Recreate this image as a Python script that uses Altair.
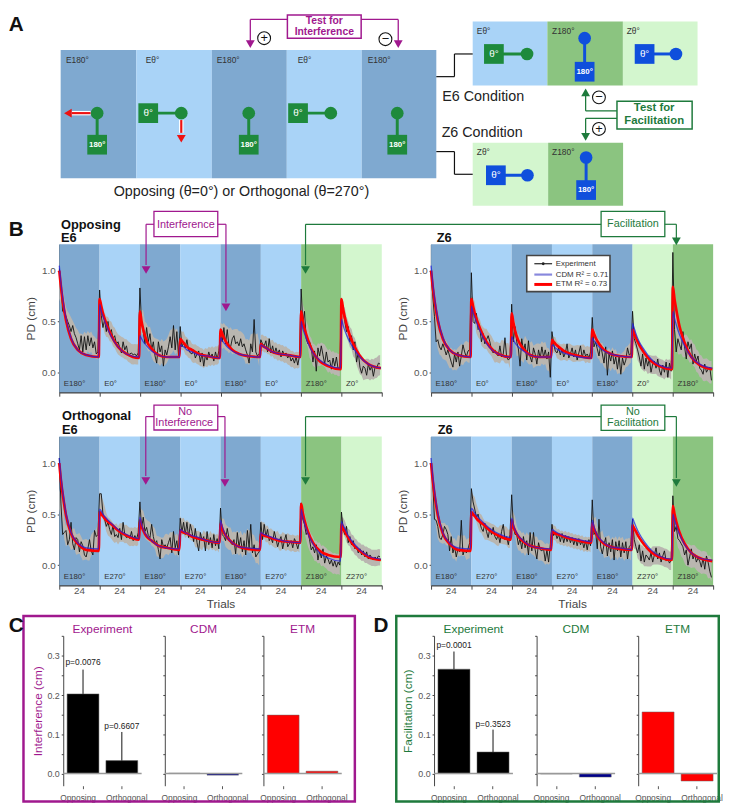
import altair as alt
import pandas as pd

DARK, LIGHT = "#7FA9D0", "#A9D3F7"
GDARK, GLIGHT = "#8BC480", "#D3F6CE"
PURPLE, GREEN = "#A0188E", "#1E7A3C"
BBLUE, BGREEN = "#0F4FDC", "#1E8A3C"
AXC = "#555555"
OFF = [0, 1, 2, 4, 7, 11, 16, 23.5]

# ---------- panel B: block labels ----------
b1_labels = ["E180°", "E0°", "E180°", "E0°", "E180°", "E0°", "Z180°", "Z0°"]
b2_labels = ["E180°", "E0°", "E180°", "E0°", "E180°", "Z0°", "Z180°"]
b3_labels = ["E180°", "E270°", "E180°", "E270°", "E180°", "E270°", "Z180°", "Z270°"]
b4_labels = ["E180°", "E270°", "E180°", "E270°", "E180°", "Z270°", "Z180°"]

# ---------- panel B: experiment, in hundredths of a cm, one row per block ----------
b1_exp = [
 [102,85,60,59,55,50,46,40,46,38,34,28,22,36,20,35,22,36,26,34,24,30,18,20],
 [81,56,44,52,40,50,38,42,33,36,28,30,24,19,30,22,26,17,18,19,17,18,16,19],
 [83,48,40,28,44,30,38,22,30,16,9,30,20,26,6,22,17,25,35,24,46,22,40,16],
 [45,25,29,24,32,22,19,18,22,14,18,21,10,19,6,17,12,20,14,18,11,20,13,21],
 [38,30,44,28,42,26,25,33,36,28,30,26,33,25,28,22,17,9,28,20,52,20,16,18],
 [32,28,26,31,20,33,19,26,18,24,18,22,15,21,17,19,14,17,11,14,9,15,7,16],
 [82,48,60,33,28,30,25,10,21,1,24,16,26,17,8,20,10,12,3,14,6,15,3,4],
 [73,60,50,40,45,30,36,22,30,10,20,5,-1,6,4,-3,8,2,6,-4,5,4,9,8],
]
b2_exp = [
 [100,75,55,30,32,25,22,28,23,17,22,16,10,5,18,10,20,6,16,27,20,15,21,22],
 [98,50,48,58,42,44,30,38,28,32,36,30,22,19,22,18,16,26,15,18,34,15,12,14],
 [67,30,45,30,23,6,33,21,28,12,31,15,10,24,18,8,22,14,25,15,22,13,20,-5],
 [40,28,21,19,24,17,23,15,19,28,14,18,24,15,22,12,19,26,14,22,16,18,14,20],
 [54,25,30,23,16,27,18,9,25,-3,18,11,21,8,15,3,16,-2,14,7,12,24,17,18],
 [60,33,28,22,15,6,18,3,14,6,13,0,8,11,4,13,2,-3,7,0,10,-5,9,1],
 [118,42,20,33,27,22,40,25,13,30,23,28,8,18,11,16,4,2,-2,8,0,3,5,-8],
]
b3_exp = [
 [105,60,30,32,34,20,25,42,21,15,27,25,13,23,19,10,8,16,25,14,10,34,28,30],
 [70,70,50,45,38,42,35,30,39,28,30,27,36,25,42,30,27,28,26,33,24,29,25,32],
 [62,36,47,33,37,29,27,40,28,21,24,15,6,25,18,20,17,22,27,12,33,17,24,10],
 [46,32,42,30,42,27,40,33,23,36,22,14,32,24,28,14,33,20,27,17,30,19,26,16],
 [56,30,28,24,36,27,22,20,25,11,32,18,27,13,24,10,34,17,40,12,20,8,11,13],
 [42,25,40,28,35,24,27,22,33,26,18,24,28,16,24,30,18,21,24,17,26,22,16,23],
 [61,45,40,30,33,25,15,18,12,20,5,14,7,16,2,9,6,1,5,-1,4,-2,3,0],
 [52,35,30,38,22,28,20,24,16,18,12,16,10,14,8,13,6,10,7,5,8,6,9,8],
]
b4_exp = [
 [100,82,45,44,38,27,25,30,38,35,30,14,28,12,18,8,16,13,44,10,15,12,16,22],
 [75,62,55,47,50,42,36,33,41,33,27,36,30,37,28,25,30,22,33,40,25,28,20,30],
 [69,38,30,30,20,26,16,28,17,24,10,32,14,32,15,6,22,15,14,16,4,15,3,20],
 [40,29,32,26,30,23,31,22,29,23,28,22,27,20,26,19,26,20,24,17,24,15,25,19],
 [64,30,33,16,45,18,11,20,27,9,22,13,25,5,23,14,24,8,22,12,23,6,18,20],
 [45,25,18,12,20,4,14,3,10,8,5,12,3,10,17,6,12,3,9,14,4,6,2,5],
 [68,33,38,26,24,21,18,10,15,0,8,16,6,11,3,7,4,-2,7,-4,9,3,-6,-12],
]
# half-width of the grey band per block
b1_hw = [10, 10, 12, 9, 12, 8, 11, 10]
b2_hw = [10, 10, 11, 8, 10, 9, 11]
b3_hw = [10, 9, 10, 8, 11, 8, 10, 8]
b4_hw = [10, 9, 10, 7, 10, 9, 11]

# ---------- panel B: model curves, hundredths of a cm, read at trials OFF of each block ----------
b1_etm = [[100,84,71,51,33,22,17,15],[72,65,58,48,36,25,18,14],[60,50,42,31,23,17,15,15],[33,31,29,25,22,18,16,14],
          [42,38,34,28,22,18,16,15],[28,26,25,23,20,18,17,15],[60,50,43,32,20,11,6,3],[72,62,54,41,28,16,8,4]]
b1_cdm = [[105,88,74,53,34,22,17,15],[67,60,55,46,35,25,18,15],[36,33,30,26,21,17,15,15],[27,26,25,22,20,17,16,14],
          [34,31,29,25,21,18,16,15],[27,26,25,23,20,18,17,15],[50,43,38,29,19,12,7,4],[52,46,41,33,24,15,8,4]]
b2_etm = [[100,84,71,51,33,22,17,15],[72,65,58,48,36,25,18,15],[58,49,41,31,23,17,15,15],[32,30,28,25,21,18,16,14],
          [42,38,34,28,22,18,16,15],[42,38,34,27,19,11,6,3],[84,72,62,45,29,15,7,3]]
b2_cdm = [[105,88,74,53,34,22,17,15],[65,59,54,45,34,24,18,15],[35,32,29,25,21,17,15,15],[27,26,24,22,19,17,15,14],
          [34,31,29,25,21,18,16,15],[48,43,38,30,22,13,7,4],[60,53,47,37,26,15,8,4]]
b3_etm = [[100,83,70,49,31,21,15,14],[52,50,48,44,40,34,29,25],[44,38,34,28,24,19,17,15],[34,33,32,31,28,26,24,22],
          [41,36,32,27,22,18,16,15],[31,30,29,28,26,24,23,22],[60,51,44,33,22,14,10,8],[40,36,33,27,20,14,8,5]]
b3_cdm = [[105,87,73,51,32,22,17,16],[55,53,50,46,41,35,30,26],[47,40,35,29,24,19,17,16],[35,34,33,31,29,27,24,22],
          [44,38,33,27,22,18,17,16],[32,31,30,29,27,25,23,22],[55,47,41,31,21,12,7,4],[43,39,36,29,22,15,9,6]]
b4_etm = [[100,83,70,49,31,21,15,14],[52,50,48,44,40,34,29,25],[44,38,34,28,23,19,17,15],[33,32,31,30,28,26,24,22],
          [41,36,32,26,21,18,16,15],[39,36,33,27,20,13,8,5],[58,50,43,32,21,12,7,4]]
b4_cdm = [[105,87,73,51,32,22,17,16],[56,54,51,47,42,36,31,27],[46,40,35,29,24,19,17,16],[35,34,33,31,29,27,25,23],
          [44,38,33,27,22,18,17,15],[46,42,38,31,23,15,9,6],[50,44,39,30,20,12,7,5]]

# ---------- panels C and D ----------
bar_cats = ["Opposing", "Orthogonal"]
c_exp, c_err = [0.203, 0.033], [0.265, 0.106]
c_cdm, c_etm = [0.001, -0.004], [0.149, 0.006]
c_p = ["p=0.0076", "p=0.6607"]
c_p_y = [0.283, 0.122]
d_exp, d_err = [0.266, 0.055], [0.311, 0.112]
d_cdm, d_etm = [-0.001, -0.009], [0.157, -0.019]
d_p = ["p=0.0001", "p=0.3523"]
d_p_y = [0.328, 0.127]


def blank(w=1, h=1):
    return alt.Chart(pd.DataFrame({"a": [0]})).mark_point(opacity=0, size=1).encode(
        x=alt.value(0), y=alt.value(0)).properties(width=w, height=h)


def trace_panel(labels, exp, etm, cdm, hw, bottom, width, height, ydom):
    n = len(labels)
    N = n * 24
    rows = []
    for b, vals in enumerate(exp):
        for t, v in enumerate(vals):
            rows.append({"t": b * 24 + t, "block": b, "v": v / 100})
    d = pd.DataFrame(rows)
    d["smooth"] = d.groupby("block")["v"].transform(lambda s: s.rolling(5, center=True, min_periods=1).mean())
    d["hw"] = [hw[b] / 100 for b in d["block"]]
    d["lo"] = d["smooth"] - d["hw"]
    d["hi"] = d["smooth"] + d["hw"]

    def curve(m):
        return pd.DataFrame([{"t": b * 24 + o, "v": v / 100, "i": b * 100 + j}
                             for b, vals in enumerate(m) for j, (o, v) in enumerate(zip(OFF, vals))])

    blocks = pd.DataFrame({"s": [i * 24 for i in range(n)], "e": [(i + 1) * 24 for i in range(n)],
                           "lab": labels,
                           "c": [{"E180°": DARK, "Z180°": GDARK}.get(l, GLIGHT if l[0] == "Z" else LIGHT) for l in labels]})
    blocks["tx"] = blocks["s"] + 2.7
    blocks["ty"] = -0.113
    blocks["mid"] = blocks["s"] + 12
    blocks["n"] = "24"
    xs = alt.Scale(domain=[0, N], nice=False)
    ys = alt.Scale(domain=ydom, nice=False)
    xax = alt.Axis(values=[i * 24 for i in range(n + 1)], labels=False, tickSize=4, tickColor="#444",
                   domainColor="#444", domainWidth=1.5, grid=False,
                   title="Trials" if bottom else None, titleFontSize=12, titleFontWeight="normal",
                   titleColor="#444", titlePadding=9)
    yax = alt.Axis(values=[0, 0.5, 1.0], format=".1f", tickSize=2, tickColor="#444", domainColor="#444",
                   domainWidth=1.5, labelColor=AXC, labelFontSize=10, grid=False, title="PD (cm)",
                   titleFontSize=12, titleFontWeight="normal", titleColor="#444", titlePadding=4)
    bg = alt.Chart(blocks).mark_rect().encode(
        x=alt.X("s:Q", scale=xs, axis=xax), x2="e:Q", y=alt.value(0), y2=alt.value(height),
        color=alt.Color("c:N", scale=None))
    band = alt.Chart(d).mark_area(color="#B9B6B0", opacity=1).encode(
        x=alt.X("t:Q", scale=xs, axis=xax),
        y=alt.Y("lo:Q", scale=ys, axis=yax), y2="hi:Q", detail="block:N")
    black = alt.Chart(d).mark_line(color="#111111", strokeWidth=0.9).encode(
        x=alt.X("t:Q", scale=xs, axis=xax), y=alt.Y("v:Q", scale=ys, axis=yax))
    red = alt.Chart(curve(etm)).mark_line(color="#FF0000", strokeWidth=2.7, interpolate="monotone").encode(
        x=alt.X("t:Q", scale=xs, axis=xax), y=alt.Y("v:Q", scale=ys, axis=yax), order="i:Q")
    blue = alt.Chart(curve(cdm)).mark_line(color="#2020DD", strokeWidth=1.3, opacity=0.75, interpolate="monotone").encode(
        x=alt.X("t:Q", scale=xs, axis=xax), y=alt.Y("v:Q", scale=ys, axis=yax), order="i:Q")
    txt = alt.Chart(blocks).mark_text(align="left", baseline="middle", fontSize=8, color="#333333").encode(
        x=alt.X("tx:Q", scale=xs, axis=xax), y=alt.Y("ty:Q", scale=ys, axis=yax), text="lab:N")
    layers = [bg, band, black, red, blue, txt]
    if bottom:
        layers.append(alt.Chart(blocks).mark_text(fontSize=10, color=AXC, baseline="middle").encode(
            x=alt.X("mid:Q", scale=xs, axis=xax), y=alt.value(height + 6), text="n:N"))
    return alt.layer(*layers).properties(width=width, height=height)


def bar_panel(title, vals, col, width, color, ytitle=None, err=None, ptxt=None, p_y=None):
    d = pd.DataFrame({"cat": bar_cats, "v": vals, "c": col})
    if err:
        d["err"] = err
        d["p"] = ptxt
        d["py"] = p_y
    xs = alt.Scale(domain=bar_cats, paddingInner=0.18, paddingOuter=0.1)
    ys = alt.Scale(domain=[-0.031, 0.351], nice=False)
    xax = alt.Axis(title=None, labelAngle=0, domain=False, tickSize=3, tickColor="#555", labelFontSize=8.5,
                   labelColor=AXC, labelPadding=5,
                   labelOffset={"condition": {"test": "datum.value == 'Opposing'", "value": -5}, "value": 5})
    yax = alt.Axis(values=[0, 0.05, 0.1, 0.15, 0.2, 0.25, 0.3, 0.35], tickSize=2, tickColor="#444",
                   domainColor="#444", grid=False, labels=bool(ytitle), labelFontSize=9, labelColor=AXC,
                   labelExpr="(round(datum.value*100)%10==0) ? format(datum.value,'.1f') : ''",
                   title=ytitle, titleColor=color, titleFontSize=12, titleFontWeight="normal", titlePadding=3)
    bars = alt.Chart(d).mark_bar(stroke="#666666", strokeWidth=0.5).encode(
        x=alt.X("cat:N", scale=xs, axis=xax, sort=bar_cats),
        y=alt.Y("v:Q", scale=ys, axis=yax), color=alt.Color("c:N", scale=None))
    zero = alt.Chart(pd.DataFrame({"z": [0]})).mark_rule(color="#999999", strokeWidth=1.6).encode(
        y=alt.Y("z:Q", scale=ys, axis=yax))
    layers = [bars, zero]
    if err:
        layers.append(alt.Chart(d).mark_rule(color="#111111", strokeWidth=1).encode(
            x=alt.X("cat:N", scale=xs, axis=xax, sort=bar_cats),
            y=alt.Y("v:Q", scale=ys, axis=yax), y2="err:Q"))
        layers.append(alt.Chart(d).mark_text(fontSize=8.5, color="#222222", baseline="middle").encode(
            x=alt.X("cat:N", scale=xs, axis=xax, sort=bar_cats),
            y=alt.Y("py:Q", scale=ys, axis=yax), text="p:N"))
    return alt.layer(*layers).properties(
        width=width, height=152,
        title=alt.TitleParams(title, fontSize=12, fontWeight="normal", color=color, offset=-1))


# ---------- schematic and annotations, in figure units ----------
rects = [
 # x1, y1, x2, y2, fill, stroke, stroke width
 (60.7,44,137.4,174,DARK,"transparent",0),(137.4,44,214,174,LIGHT,"transparent",0),(214,44,290,174,DARK,"transparent",0),
 (290,44,366,174,LIGHT,"transparent",0),(366,44,441.6,174,DARK,"transparent",0),
 (478.5,15,554.2,80,LIGHT,"transparent",0),(554.2,15,630.8,80,GDARK,"transparent",0),(630.8,15,706.5,80,GLIGHT,"transparent",0),
 (478.5,138,555,202,GLIGHT,"transparent",0),(555,138,631,202,GDARK,"transparent",0),
 (290.6,8.5,365.4,32,"white",PURPLE,1.5),(624.8,96,701,124,"white",GREEN,1.5),
 (155.3,207.7,220,233.3,"white",PURPLE,1.3),(608.7,207.7,673.3,233.3,"white",GREEN,1.3),
 (155.3,404,220,429.3,"white",PURPLE,1.3),(608.7,404,673.3,429.7,"white",GREEN,1.3),
 (533.3,252.3,617.7,289,"white","#444444",1.6),
 (23,618,359,806,"transparent",PURPLE,2.5),(401,618,728,806,"transparent",GREEN,2.5),
]
segs = [
 # x1, y1, x2, y2, colour, width
 (441.6,71,460,71,"#111111",1.2),(460,71,460,48,"#111111",1.2),(460,48,478.5,48,"#111111",1.2),
 (441.6,147,460,147,"#111111",1.2),(460,147,460,170,"#111111",1.2),(460,170,478.5,170,"#111111",1.2),
 (290.6,13,253,13,PURPLE,1.3),(253,13,253,36,PURPLE,1.3),(365.4,13,403,13,PURPLE,1.3),(403,13,403,36,PURPLE,1.3),
 (624.8,105.7,593,105.7,GREEN,1.3),(593,105.7,593,89,GREEN,1.3),(624.8,113.3,593,113.3,GREEN,1.3),(593,113.3,593,130,GREEN,1.3),
 (155.3,220.7,147.3,220.7,PURPLE,1.2),(147.3,220.7,147.3,262,PURPLE,1.2),(220,220.7,228.3,220.7,PURPLE,1.2),(228.3,220.7,228.3,300,PURPLE,1.2),
 (608.7,220.7,309,220.7,GREEN,1.2),(309,220.7,309,262,GREEN,1.2),(673.3,220.7,685,220.7,GREEN,1.2),(685,220.7,685,235,GREEN,1.2),
 (155.3,415.7,147,415.7,PURPLE,1.2),(147,415.7,147,476,PURPLE,1.2),(220,415.7,227.3,415.7,PURPLE,1.2),(227.3,415.7,227.3,478,PURPLE,1.2),
 (608.7,415.7,309,415.7,GREEN,1.2),(309,415.7,309,476,GREEN,1.2),(673.3,415.7,685,415.7,GREEN,1.2),(685,415.7,685,478,GREEN,1.2),
 # robot stems
 (97.7,108,97.7,140,BGREEN,3),(149.5,108,183,108,BGREEN,3),(251.4,108,251.4,140,BGREEN,3),(301.4,108,334.6,108,BGREEN,3),(402,108,402,140,BGREEN,3),
 (500,48,533.6,48,BGREEN,3),(592,32,592,66,BBLUE,3),(652.8,48,684.6,48,BBLUE,3),(502,171,534,171,BBLUE,3),(593.5,153,593.5,186,BBLUE,3),
 # force arrows
 (91,108,72,108,"white",4.5),(183,115,183,128,"white",4.5),(91,108,72,108,"#EE1111",2.2),(183,115,183,128,"#EE1111",2.2),
 # legend keys
 (541,260.7,559,260.7,"#222222",1.2),(541,271.7,559,271.7,"#8888DD",2.2),(541,281.7,559,281.7,"#FF0000",3),
]
dots = [(97.7,108,BGREEN),(183,108,BGREEN),(251.4,108,BGREEN),(334.6,108,BGREEN),(402,108,BGREEN),
        (533.6,48,BGREEN),(592,32,BBLUE),(684.6,48,BBLUE),(534,171,BBLUE),(593.5,153,BBLUE)]
squares = [(97.7,140,BGREEN),(149.5,108,BGREEN),(251.4,140,BGREEN),(301.4,108,BGREEN),(402,140,BGREEN),
           (500,48,BGREEN),(592,66,BBLUE),(652.8,48,BBLUE),(502,171,BBLUE),(593.5,186,BBLUE)]
heads_down = [(253,38,PURPLE),(403,38,PURPLE),(593,132,GREEN),(183,134,"#EE1111"),(147.3,267,PURPLE),(228.3,305,PURPLE),(309,267,GREEN),
              (685,238,GREEN),(147,481,PURPLE),(227.3,483,PURPLE),(309,481,GREEN),(685,483,GREEN)]
heads_up = [(593,87,GREEN)]
heads_left = [(68,108,"#EE1111")]
rings = [(267,32),(390,33),(606.5,92),(606.5,124)]

text_styles = {
 "plain": (dict(fontSize=8.5, color="#333333", align="left"), [
   ("E180°",66,54),("Eθ°",147,54),("E180°",219,54),("Eθ°",301,54),("E180°",372,54),
   ("Eθ°",482.7,25),("Z180°",559,25),("Zθ°",634.6,25),("Zθ°",482.7,147),("Z180°",559,147)]),
 "big": (dict(fontSize=14.5, color="#222222", align="left"), [("E6 Condition",447.7,92),("Z6 Condition",447,128)]),
 "bigc": (dict(fontSize=14.5, color="#222222", align="center"), [("Opposing (θ=0°) or Orthogonal (θ=270°)",244,188)]),
 "white": (dict(fontSize=8, color="white", fontWeight="bold", align="center"), [
   ("180°",97.7,140),("180°",251.4,140),("180°",402,140),("180°",592,66),("180°",593.5,186)]),
 "theta": (dict(fontSize=10, color="white", align="center"), [
   ("θ°",149.5,108),("θ°",301.4,108),("θ°",500,48),("θ°",652.8,48),("θ°",502,171)]),
 "testp": (dict(fontSize=10.5, color=PURPLE, fontWeight="bold", align="center"), [("Test for",328,14.5),("Interference",328,26)]),
 "testg": (dict(fontSize=11.5, color=GREEN, fontWeight="bold", align="center"), [("Test for",662.5,103),("Facilitation",662.5,116)]),
 "callp": (dict(fontSize=11, color=PURPLE, align="center"), [("Interference",187.7,221),("No",187,411),("Interference",186,422.5)]),
 "callg": (dict(fontSize=11, color=GREEN, align="center"), [("Facilitation",641,220.5),("No",641,411),("Facilitation",641,422.5)]),
 "head": (dict(fontSize=13, color="#111111", fontWeight="bold", align="left"), [
   ("Opposing",61,221),("E6",61,235),("Z6",442,235),("Orthogonal",62,414.7),("E6",62,429),("Z6",443,429)]),
 "letter": (dict(fontSize=21, color="#111111", fontWeight="bold", align="left"), [
   ("A",8,19),("B",8,227),("C",8,628),("D",378,628)]),
 "legend": (dict(fontSize=8, color="#333333", align="left"), [
   ("Experiment",562.7,260.7),("CDM R² = 0.71",562.7,271.7),("ETM R² = 0.73",562.7,281.7)]),
 "sign": (dict(fontSize=13, color="#111111", align="center"), [("+",267,32),("−",390,33),("−",606.5,92),("+",606.5,124)]),
}

Y0 = 798.0
X0 = 59.3
W = 660.0
xs = alt.Scale(domain=[X0, X0 + W], nice=False)
ys = alt.Scale(domain=[Y0, Y0 + 1], range=[0, 1], nice=False)
XE = alt.X("x:Q", scale=xs, axis=None)
YE = alt.Y("y:Q", scale=ys, axis=None)

rdf = pd.DataFrame(rects, columns=["x", "y", "x2", "y2", "f", "s", "w"])
sdf = pd.DataFrame(segs, columns=["x", "y", "x2", "y2", "c", "w"])


def pts(rows, **kw):
    d = pd.DataFrame(rows, columns=["x", "y", "c"])
    return alt.Chart(d).mark_point(filled=True, opacity=1, **kw).encode(x=XE, y=YE, color=alt.Color("c:N", scale=None))


over = [
    alt.Chart(pd.DataFrame({"x": [8, 731], "y": [8, 808]})).mark_point(opacity=0, size=1).encode(x=XE, y=YE),
    alt.Chart(rdf).mark_rect().encode(x=XE, y=YE, x2="x2:Q", y2="y2:Q", color=alt.Color("f:N", scale=None),
                                      stroke=alt.Stroke("s:N", scale=None), strokeWidth=alt.StrokeWidth("w:Q", scale=None)),
    alt.Chart(sdf).mark_rule().encode(x=XE, y=YE, x2="x2:Q", y2="y2:Q", color=alt.Color("c:N", scale=None),
                                      strokeWidth=alt.StrokeWidth("w:Q", scale=None)),
    pts(dots, shape="circle", size=165),
    pts(squares, shape="square", size=400),
    pts(heads_down, shape="triangle-down", size=80),
    pts(heads_up, shape="triangle-up", size=80),
    pts(heads_left, shape="triangle-left", size=80),
    pts([(550, 260.7, "#222222")], shape="circle", size=8),
    alt.Chart(pd.DataFrame(rings, columns=["x", "y"])).mark_point(shape="circle", size=170, color="#111111", strokeWidth=1.1, opacity=1,
                                                                   fill="white", filled=False).encode(x=XE, y=YE),
]
for name, (style, rows) in text_styles.items():
    over.append(alt.Chart(pd.DataFrame(rows, columns=["t", "x", "y"])).mark_text(baseline="middle", **style).encode(x=XE, y=YE, text="t:N"))
overlay = alt.layer(*over).properties(width=W, height=1)

YD1 = [-0.197, 1.26]
row1 = alt.hconcat(trace_panel(b1_labels, b1_exp, b1_etm, b1_cdm, b1_hw, False, 327, 150, YD1), blank(50),
                   trace_panel(b2_labels, b2_exp, b2_etm, b2_cdm, b2_hw, False, 286, 150, YD1), spacing=0, bounds="flush")
row2 = alt.hconcat(trace_panel(b3_labels, b3_exp, b3_etm, b3_cdm, b3_hw, True, 327, 150.7, YD1), blank(50),
                   trace_panel(b4_labels, b4_exp, b4_etm, b4_cdm, b4_hw, True, 286, 150.7, YD1), spacing=0, bounds="flush")
cols = ["#000000", "#000000"]
blues = ["#000000", "#00008B"]
reds = ["#FF0000", "#FF0000"]
row3 = alt.hconcat(
    blank(3.7),
    bar_panel("Experiment", c_exp, cols, 79.5, PURPLE, "Interference (cm)", c_err, c_p, c_p_y), blank(22.9),
    bar_panel("CDM", c_cdm, blues, 78.6, PURPLE), blank(21),
    bar_panel("ETM", c_etm, reds, 79.4, PURPLE), blank(92.6),
    bar_panel("Experiment", d_exp, cols, 80, GREEN, "Facilitation (cm)", d_err, d_p, d_p_y), blank(24),
    bar_panel("CDM", d_cdm, blues, 79.6, GREEN), blank(22.9),
    bar_panel("ETM", d_etm, reds, 79.9, GREEN),
    spacing=0, bounds="flush")

chart = alt.vconcat(row1, blank(1, 194.3), row2, blank(1, 202), row3, blank(1, 160), overlay,
                    spacing=0, bounds="flush").properties(padding=0).configure(font="Liberation Sans").configure_view(stroke=None)
chart.save("out.html", embed_options={"renderer": "svg", "actions": False})
